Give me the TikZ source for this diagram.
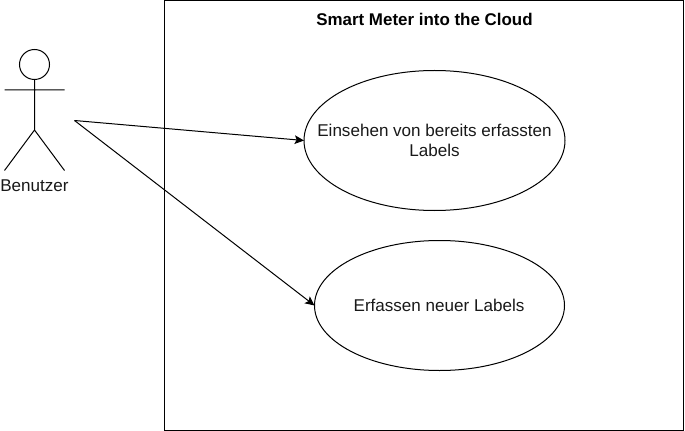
\documentclass[tikz,border=0pt]{standalone}
\usepackage{fontspec}
\setmainfont{Liberation Sans}
\usetikzlibrary{shapes.geometric,arrows.meta}
\tikzset{
  line/.style={draw=black,line width=0.75pt},
  usecase/.style={ellipse,line,inner sep=0pt,outer sep=0pt},
  lbl/.style={align=center,inner sep=0pt,font=\fontsize{12.8pt}{15.5pt}\selectfont,text=black!90},
  conn/.style={line,-{Stealth[length=7pt,width=6.5pt,inset=1.5pt]}}
}
\begin{document}
\begin{tikzpicture}[x=0.75pt,y=-0.75pt]
\useasboundingbox (0,0) rectangle (685,431);
\node[line,rectangle,minimum width=389.6pt,minimum height=322.3pt,inner sep=0pt,outer sep=0pt,anchor=north west] (sys) at (164.5,0.5) {};
\node[font=\fontsize{12.7pt}{15pt}\selectfont\bfseries,inner sep=0pt] (title) at (424.5,19.5) {Smart Meter into the Cloud};
\node[usecase,minimum width=195.75pt,minimum height=105pt] (uc1) at (434.5,140.5) {};
\node[lbl] (uc1t) at (434.5,140.5) {Einsehen von bereits erfassten\\Labels};
\node[usecase,minimum width=187.5pt,minimum height=97.5pt] (uc2) at (439.5,305.5) {};
\node[lbl] (uc2t) at (439,305) {Erfassen neuer Labels};
\node[circle,line,minimum size=22.5pt,inner sep=0pt,outer sep=0pt] (head) at (34.5,64.5) {};
\coordinate (hip) at (34.5,130);
\coordinate (al) at (4.5,90);
\coordinate (ar) at (64.5,90);
\coordinate (fl) at (4.5,170.5);
\coordinate (fr) at (64.5,170.5);
\coordinate (src) at (74.5,120.5);
\draw[line] (head.south) -- (hip) (al) -- (ar) (hip) -- (fl) (hip) -- (fr);
\node[lbl] (actor) at (34.5,186) {Benutzer};
\draw[conn] (src) -- (uc1.west);
\draw[conn] (src) -- (uc2.west);
\end{tikzpicture}
\end{document}
